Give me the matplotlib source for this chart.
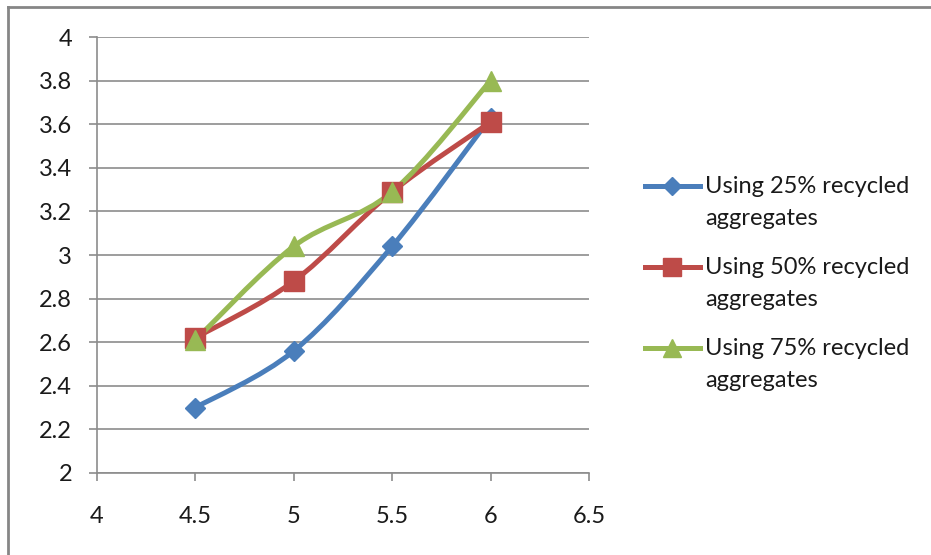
import numpy as np
import matplotlib
matplotlib.use("Agg")
import matplotlib.pyplot as plt
from matplotlib.path import Path
from matplotlib.patches import PathPatch
from matplotlib.lines import Line2D

plt.rcParams['font.family'] = ['Lato', 'DejaVu Sans']

# x positions shared by all series
x_vals = [4.5, 5.0, 5.5, 6.0]
y_25 = [2.30, 2.56, 3.04, 3.63]
y_50 = [2.62, 2.88, 3.29, 3.61]
y_75 = [2.61, 3.04, 3.29, 3.80]

labels = ['Using 25% recycled\naggregates',
          'Using 50% recycled\naggregates',
          'Using 75% recycled\naggregates']
colors = ['#4A7EBB', '#BE4B48', '#98B954']
markers = ['D', 's', '^']
msizes = [10, 14, 14]


def smooth_path(xs, ys, t=1 / 6):
    """Bezier path through the points, similar to Excel's smoothed line."""
    pts = np.column_stack([xs, ys])
    n = len(pts)
    verts = [pts[0]]
    codes = [Path.MOVETO]
    for i in range(n - 1):
        p0 = pts[i - 1] if i > 0 else pts[i]
        p1 = pts[i]
        p2 = pts[i + 1]
        p3 = pts[i + 2] if i + 2 < n else pts[i + 1]
        c1 = p1 + (p2 - p0) * t
        c2 = p2 - (p3 - p1) * t
        verts += [c1, c2, p2]
        codes += [Path.CURVE4] * 3
    return Path(verts, codes)


fig = plt.figure(figsize=(9.31, 5.55), dpi=100)
ax = fig.add_axes([97 / 931, 1 - 473 / 555, 492 / 931, 436 / 555])

series = [y_25, y_50, y_75]
for ys, c, m, ms in zip(series, colors, markers, msizes):
    ax.add_patch(PathPatch(smooth_path(x_vals, ys), fill=False,
                           edgecolor=c, lw=3.6, capstyle='round',
                           joinstyle='round', zorder=3))
    ax.plot(x_vals, ys, ls='none', marker=m, ms=ms, color=c, zorder=4)

ax.set_xlim(4, 6.5)
ax.set_ylim(2, 4)
ax.set_xticks(np.arange(4, 6.51, 0.5))
ax.set_yticks(np.arange(2, 4.01, 0.2))
ax.set_xticklabels(['4', '4.5', '5', '5.5', '6', '6.5'])
ax.set_yticklabels(['2', '2.2', '2.4', '2.6', '2.8', '3', '3.2', '3.4',
                    '3.6', '3.8', '4'])
ax.grid(axis='y', color='#8c8c8c', lw=1.2)
ax.set_axisbelow(True)
for s in ['top', 'right']:
    ax.spines[s].set_visible(False)
for s in ['left', 'bottom']:
    ax.spines[s].set_color('#8c8c8c')
    ax.spines[s].set_linewidth(1.2)
ax.tick_params(axis='both', color='#8c8c8c', width=1.2, length=6,
               labelsize=17, labelcolor='#1a1a1a')
ax.tick_params(axis='x', pad=18)
ax.tick_params(axis='y', pad=12)

# legend drawn by hand so the key sits on the first text line
leg_y = [186, 267, 348]
for yy, c, m, ms, lab in zip(leg_y, colors, markers, msizes, labels):
    yf = 1 - yy / 555
    fig.add_artist(Line2D([645 / 931, 700 / 931], [yf, yf], color=c, lw=3.6,
                          transform=fig.transFigure))
    fig.add_artist(Line2D([672 / 931], [yf], marker=m, ms=ms * 0.9, color=c,
                          transform=fig.transFigure))
    fig.text(705 / 931, yf + 10 / 555, lab, fontsize=17, color='#1a1a1a',
             va='top', ha='left', linespacing=1.62)

# chart frame (top and left edges)
fig.add_artist(Line2D([8 / 931, 1], [1 - 7 / 555, 1 - 7 / 555], color='#868686',
                      lw=2, transform=fig.transFigure))
fig.add_artist(Line2D([8 / 931, 8 / 931], [0, 1 - 7 / 555], color='#868686',
                      lw=2, transform=fig.transFigure))

fig.savefig('out.png', dpi=100)
